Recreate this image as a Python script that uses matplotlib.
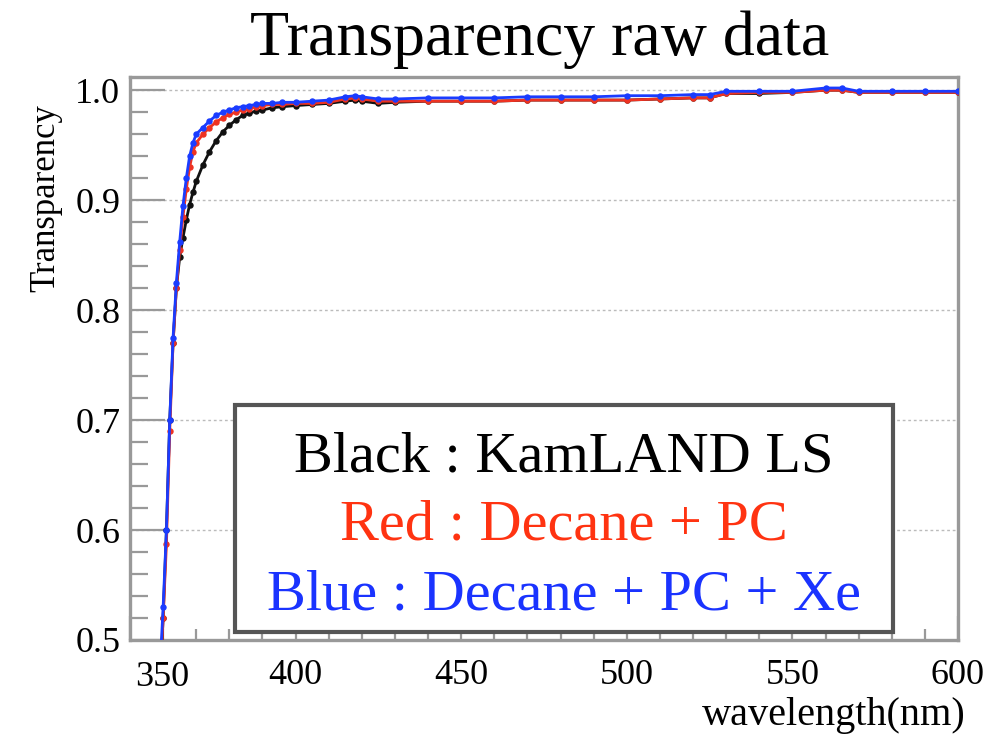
import matplotlib
matplotlib.use("Agg")
import matplotlib.pyplot as plt
from matplotlib.patches import Rectangle
from matplotlib.ticker import MultipleLocator, FuncFormatter, FormatStrFormatter

plt.rcParams["font.family"] = ["Liberation Serif", "DejaVu Serif"]

# wavelength (nm) and measured transparency for the three samples
wavelength = [358, 359, 360, 361, 362, 363, 364, 365, 366, 367, 368, 369, 370,
              372, 374, 376, 378, 380, 382, 384, 386, 388, 390, 393, 396, 400,
              405, 410, 415, 418, 420, 425, 430, 440, 450, 460, 470, 480, 490,
              500, 510, 520, 525, 530, 540, 550, 560, 565, 570, 580, 590, 600]

kamland_ls = [0.40, 0.45, 0.52, 0.60, 0.70, 0.77, 0.82, 0.848, 0.866, 0.882, 0.896, 0.907, 0.917,
              0.932, 0.944, 0.954, 0.962, 0.968, 0.973, 0.977, 0.979, 0.981, 0.982, 0.984, 0.985, 0.986,
              0.987, 0.988, 0.990, 0.991, 0.990, 0.988, 0.989, 0.990, 0.990, 0.990, 0.991, 0.991, 0.991,
              0.991, 0.992, 0.993, 0.993, 0.997, 0.997, 0.998, 1.000, 1.000, 0.998, 0.998, 0.998, 0.998]

decane_pc = [0.41, 0.46, 0.52, 0.587, 0.69, 0.77, 0.82, 0.855, 0.885, 0.910, 0.930, 0.944, 0.952,
             0.960, 0.966, 0.971, 0.975, 0.978, 0.980, 0.982, 0.983, 0.985, 0.986, 0.987, 0.987, 0.988,
             0.988, 0.989, 0.992, 0.993, 0.992, 0.990, 0.990, 0.990, 0.990, 0.990, 0.991, 0.991, 0.991,
             0.991, 0.992, 0.993, 0.993, 0.997, 0.998, 0.998, 1.000, 1.000, 0.998, 0.998, 0.998, 0.998]

decane_pc_xe = [0.42, 0.47, 0.53, 0.600, 0.70, 0.775, 0.825, 0.862, 0.895, 0.920, 0.940, 0.952, 0.960,
                0.966, 0.972, 0.977, 0.980, 0.982, 0.984, 0.985, 0.986, 0.987, 0.988, 0.988, 0.989, 0.989,
                0.990, 0.991, 0.994, 0.995, 0.994, 0.992, 0.992, 0.993, 0.993, 0.993, 0.994, 0.994, 0.994,
                0.995, 0.995, 0.996, 0.996, 0.999, 0.999, 0.999, 1.002, 1.002, 0.999, 0.999, 0.999, 0.999]

series = [
    (kamland_ls, "#111111"),
    (decane_pc, "#ee3322"),
    (decane_pc_xe, "#1a3cff"),
]

legend_lines = [
    ("Black : KamLAND LS", "#000000"),
    ("Red : Decane + PC", "#ff3311"),
    ("Blue : Decane + PC + Xe", "#1a33ff"),
]

FRAME = "#999999"

fig = plt.figure(figsize=(10.04, 7.36), dpi=100)
ax = fig.add_axes([130 / 1004, 1 - 640 / 736, 828 / 1004, 563 / 736])

for vals, col in series:
    ax.plot(wavelength, vals, color=col, lw=2.0, marker="o", ms=3.6,
            mec=col, mfc=col, zorder=3, clip_on=True)

ax.set_xlim(350, 600)
ax.set_ylim(0.5, 1.012)

ax.xaxis.set_major_locator(MultipleLocator(50))
ax.xaxis.set_minor_locator(MultipleLocator(10))
ax.yaxis.set_major_locator(MultipleLocator(0.1))
ax.yaxis.set_minor_locator(MultipleLocator(0.02))
ax.yaxis.set_major_formatter(FormatStrFormatter("%.1f"))
# first x label is nudged inward, drawn separately below
ax.xaxis.set_major_formatter(FuncFormatter(lambda v, p: "" if v <= 350 else f"{v:.0f}"))

ax.tick_params(axis="both", which="both", direction="in", color=FRAME,
               width=1.6, labelsize=26, top=False, right=False)
ax.tick_params(axis="x", which="major", length=17, pad=14)
ax.tick_params(axis="x", which="minor", length=8)
ax.tick_params(axis="y", which="major", length=25, pad=7)
ax.tick_params(axis="y", which="minor", length=13)

for sp in ax.spines.values():
    sp.set_color(FRAME)
    sp.set_linewidth(2.4)

ax.grid(axis="y", which="major", color="#bbbbbb", linestyle=(0, (2, 2)), lw=1.0, zorder=0)

# label box on the lower part of the plot
box = Rectangle((235 / 1004, 1 - 632 / 736), 658 / 1004, 227 / 736,
                transform=fig.transFigure, facecolor="white", edgecolor="#555555",
                lw=3.0, zorder=4)
fig.patches.append(box)
for (txt, col), ypx in zip(legend_lines, [457, 525, 595]):
    fig.text(564 / 1004, 1 - ypx / 736, txt, color=col, fontsize=42,
             ha="center", va="center", zorder=5)

fig.text(162 / 1004, 1 - 677 / 736, "350", fontsize=26, ha="center", va="center")
fig.text(540 / 1004, 1 - 40 / 736, "Transparency raw data", fontsize=46,
         ha="center", va="center")
fig.text(46 / 1004, 1 - 198 / 736, "Transparency", fontsize=25, rotation=90,
         ha="center", va="center")
fig.text(966 / 1004, 1 - 715 / 736, "wavelength(nm)", fontsize=29,
         ha="right", va="center")

fig.savefig("out.png", dpi=100, facecolor="white")
